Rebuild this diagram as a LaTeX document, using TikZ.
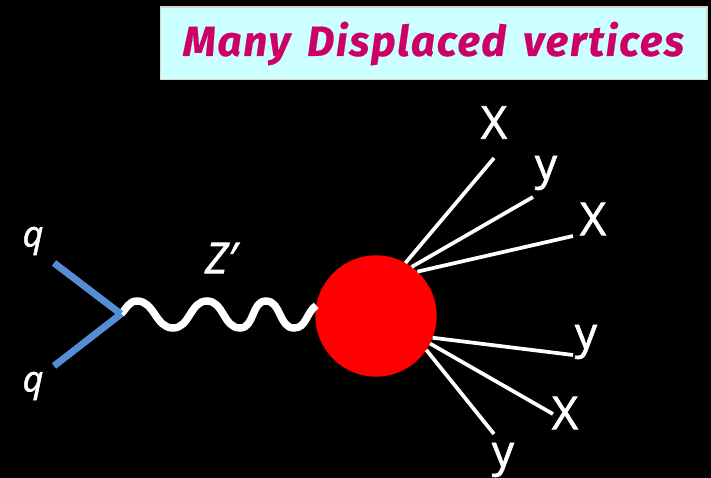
\documentclass[tikz,border=0pt]{standalone}
\usepackage{fontspec}
\setmainfont{Open Sans}
\newfontfamily\titlefont[LetterSpace=4,WordSpace=1.5,FakeBold=0.5]{Fira Sans}
\newfontfamily\labfont[FakeBold=1.5]{Open Sans}
\definecolor{boxfill}{HTML}{CCFFFF}
\definecolor{boxedge}{HTML}{D8D8C8}
\definecolor{titlecol}{HTML}{CC0066}
\definecolor{quarkcol}{HTML}{558ED5}
\tikzset{
  quark/.style={draw=quarkcol,line width=5.2pt},
  boson/.style={draw=white,line width=5.6pt},
  prod/.style={draw=white,line width=2.8pt},
  lab/.style={text=white,inner sep=0pt,font=\labfont\fontsize{34}{34}\selectfont},
  laby/.style={text=white,inner sep=0pt,font=\labfont\fontsize{33}{33}\selectfont},
  ital/.style={text=white,inner sep=0pt,font=\labfont\fontsize{27}{27}\selectfont\itshape},
  italz/.style={text=white,inner sep=0pt,font=\labfont\fontsize{32}{32}\selectfont\itshape},
}
\begin{document}
\begin{tikzpicture}[x=0.75pt,y=-0.75pt]
\path[use as bounding box,fill=black] (0,0) rectangle (711,478);
\node[name=title,draw=boxedge,line width=1pt,fill=boxfill,minimum width=410pt,minimum height=54.5pt,inner sep=0pt,text=titlecol,font=\titlefont\bfseries\itshape\fontsize{31.7}{32}\selectfont] at (433.5,43.5) {Many Displaced vertices};
% vertices and wave points
\coordinate (v) at (121,314);
\coordinate (p1) at (137,301);
\coordinate (t1) at (173,328);
\coordinate (p2) at (207,301);
\coordinate (t2) at (240,328);
\coordinate (p3) at (266,301);
\coordinate (t3) at (294,328);
\coordinate (qa) at (54,263);
\coordinate (qb) at (54,366);
\node[name=blob,circle,fill=red,minimum size=91pt,inner sep=0pt,outer sep=0pt] at (376,316) {};
\draw[boson] (v) to[out=45,in=180] (p1) to[out=0,in=180] (t1) to[out=0,in=180] (p2) to[out=0,in=180] (t2) to[out=0,in=180] (p3) to[out=0,in=180] (t3) to[out=0,in=215] (blob.170);
\draw[quark] (qa) -- (v);
\draw[quark] (qb) -- (v);
\node[name=q1,ital] at (33,241) {q};
\node[name=q2,ital] at (33,386) {q};
\node[name=zp,italz] at (221,258) {Z′};
% outgoing lines
\coordinate (e1) at (494,158);
\coordinate (e2) at (533,197);
\coordinate (e3) at (573,236);
\coordinate (e4) at (573,355);
\coordinate (e5) at (553,414);
\coordinate (e6) at (494,434);
\draw[prod] (blob.61) -- (e1);
\draw[prod] (blob.54) -- (e2);
\draw[prod] (blob.47) -- (e3);
\draw[prod] (blob.-21) -- (e4);
\draw[prod] (blob.-27) -- (e5);
\draw[prod] (blob.-34) -- (e6);
\node[name=x1,lab] at (494,122.5) {X};
\node[name=y1,laby] at (546,173) {y};
\node[name=x2,lab] at (593,219) {X};
\node[name=y2,laby] at (586,342) {y};
\node[name=x3,lab] at (565,413) {X};
\node[name=y3,laby] at (503,460) {y};
\end{tikzpicture}
\end{document}
